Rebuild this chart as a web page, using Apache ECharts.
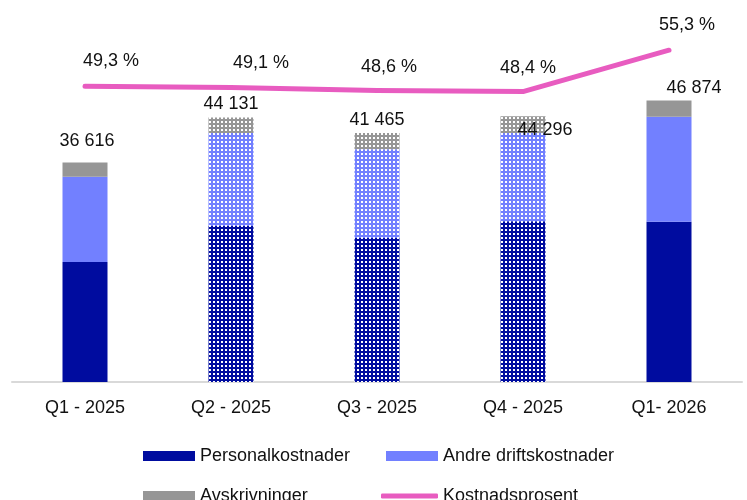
<!DOCTYPE html>
<html>
<head>
<meta charset="utf-8">
<script src="https://cdn.jsdelivr.net/npm/echarts@6/dist/echarts.min.js"></script>
<style>
  html, body { margin: 0; padding: 0; background: #fff; }
  #chart { width: 747px; height: 500px; }
</style>
</head>
<body>
<div id="chart"></div>
<script>
const categories = ['Q1 - 2025', 'Q2 - 2025', 'Q3 - 2025', 'Q4 - 2025', 'Q1- 2026']
const personal = [20000, 26000, 24000, 26800, 26700]
const andre = [14200, 15500, 14800, 14700, 17500]
const avskr = [2400, 2600, 2700, 2800, 2700]
const totals = [36616, 44131, 41465, 44296, 46874]
const prosent = [49.3, 49.1, 48.6, 48.4, 55.3]
// kvartaler med prikkemønster
const dotted = [false, true, true, true, false]

// label-justering (px)
const totalShift = [[2, -6], [0, 2], [0, 2], [22, 29], [25, 2]]
const pctShift = [[26, -12], [30, -11], [12, -10], [5, -10], [18, -12]]

const C_PERS = '#000C9F'
const C_ANDRE = '#7280FF'
const C_AVSKR = '#969696'
const C_LINE = '#E85CC0'

function dotPattern(color) {
  const c = document.createElement('canvas')
  c.width = 4
  c.height = 4
  const ctx = c.getContext('2d')
  ctx.fillStyle = color
  ctx.fillRect(0, 0, 4, 4)
  ctx.fillStyle = '#ffffff'
  ctx.fillRect(1, 1, 2, 2)
  return { image: c, repeat: 'repeat' }
}

function barData(values, color) {
  return values.map((v, i) => dotted[i]
    ? { value: v, itemStyle: { color: dotPattern(color) } }
    : v)
}

const font = 'Liberation Sans, Arial, sans-serif'
const txt = { fontFamily: font, fontSize: 18, color: '#111' }

const chart = echarts.init(document.getElementById('chart'))

const legendBase = {
  itemWidth: 52,
  itemHeight: 10,
  itemGap: 0,
  padding: 0,
  textStyle: txt,
  selectedMode: false,
}

chart.setOption({
  animation: false,
  grid: { left: 12, right: 5, top: 22, bottom: 118 },
  legend: [
    { ...legendBase, left: 143, top: 447, data: [{ name: 'Personalkostnader', icon: 'rect' }] },
    { ...legendBase, left: 386, top: 447, data: [{ name: 'Andre driftskostnader', icon: 'rect' }] },
    { ...legendBase, left: 143, top: 487, data: [{ name: 'Avskrivninger', icon: 'rect' }] },
    { ...legendBase, left: 381, top: 487, itemWidth: 57, itemHeight: 5,
      data: [{ name: 'Kostnadsprosent', icon: 'roundRect', itemStyle: { color: C_LINE } }] },
  ],
  xAxis: {
    type: 'category',
    data: categories,
    axisLine: { lineStyle: { color: '#d9d9d9', width: 2 } },
    axisTick: { show: false },
    axisLabel: { ...txt, margin: 17 },
  },
  yAxis: [
    { type: 'value', min: 0, max: 60000, show: false, splitLine: { show: false } },
    { type: 'value', min: 0, max: 60, show: false, splitLine: { show: false } },
  ],
  series: [
    {
      name: 'Personalkostnader',
      type: 'bar',
      stack: 'k',
      barWidth: 45,
      itemStyle: { color: C_PERS },
      data: barData(personal, C_PERS),
    },
    {
      name: 'Andre driftskostnader',
      type: 'bar',
      stack: 'k',
      itemStyle: { color: C_ANDRE },
      data: barData(andre, C_ANDRE),
    },
    {
      name: 'Avskrivninger',
      type: 'bar',
      stack: 'k',
      itemStyle: { color: C_AVSKR },
      data: barData(avskr, C_AVSKR).map((d, i) => {
        const item = typeof d === 'object' ? d : { value: d }
        item.label = {
          show: true,
          position: 'top',
          distance: 6,
          offset: totalShift[i],
          formatter: () => totals[i].toLocaleString('nb-NO').replace(/\s/g, ' '),
          ...txt,
        }
        return item
      }),
    },
    {
      name: 'Kostnadsprosent',
      type: 'line',
      yAxisIndex: 1,
      symbol: 'circle',
      symbolSize: 1,
      showSymbol: true,
      lineStyle: { color: C_LINE, width: 5, cap: 'round', join: 'round' },
      itemStyle: { color: C_LINE },
      data: prosent.map((v, i) => ({
        value: v,
        label: {
          show: true,
          position: 'top',
          distance: 4,
          offset: pctShift[i],
          formatter: () => v.toFixed(1).replace('.', ',') + ' %',
          ...txt,
        },
      })),
    },
  ],
})
</script>
</body>
</html>
